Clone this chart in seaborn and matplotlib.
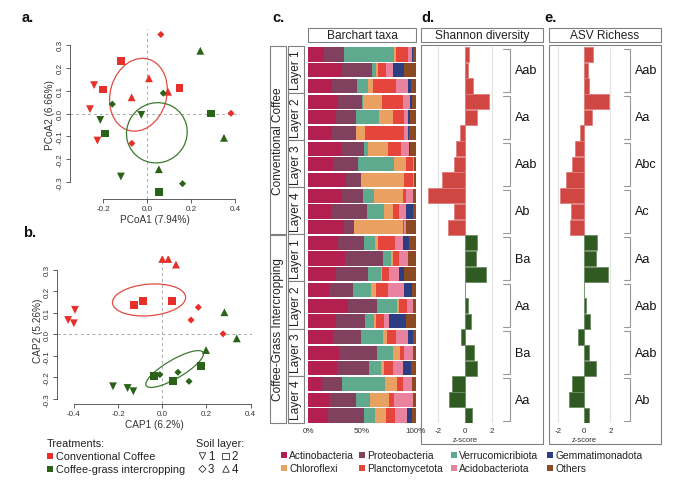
import matplotlib
matplotlib.use("Agg")
import matplotlib.pyplot as plt
from matplotlib.patches import Ellipse, Rectangle
import numpy as np
import pandas as pd
import seaborn as sns

# ---------------- data ----------------
# a. PCoA scores
pcoa_conv_x = [0.062, -0.118, 0.008, -0.242, -0.203, -0.071, 0.095, 0.147, -0.261, -0.227, -0.070, 0.382]
pcoa_conv_y = [0.345, 0.229, 0.154, 0.124, 0.105, 0.071, 0.095, 0.111, 0.019, -0.118, -0.130, 0.001]
pcoa_conv_layer = [3, 2, 4, 1, 2, 4, 4, 2, 1, 1, 3, 3]
pcoa_inter_x = [0.242, 0.073, -0.159, -0.214, -0.027, 0.292, -0.192, 0.350, 0.053, -0.120, 0.161, 0.053]
pcoa_inter_y = [0.274, 0.089, 0.041, -0.028, -0.006, 0.000, -0.087, -0.106, -0.243, -0.275, -0.306, -0.342]
pcoa_inter_layer = [4, 3, 3, 1, 1, 2, 2, 4, 4, 1, 3, 2]

# b. CAP scores
cap_conv_x = [0.000, 0.027, 0.062, -0.127, -0.089, 0.044, -0.395, -0.426, -0.400, 0.163, 0.130, 0.275]
cap_conv_y = [0.349, 0.349, 0.323, 0.134, 0.156, 0.156, 0.113, 0.066, 0.051, 0.125, 0.066, 0.002]
cap_conv_layer = [4, 4, 4, 2, 2, 2, 1, 1, 1, 3, 3, 3]
cap_inter_x = [0.281, 0.337, 0.198, 0.174, -0.038, 0.047, -0.011, 0.071, 0.121, -0.223, -0.157, -0.131]
cap_inter_y = [0.102, -0.019, -0.073, -0.145, -0.195, -0.215, -0.187, -0.176, -0.218, -0.241, -0.249, -0.264]
cap_inter_layer = [4, 4, 4, 2, 2, 2, 3, 3, 3, 1, 1, 1]

# c. relative abundance (%) per sample, top to bottom (24 samples)
taxa = ["Actinobacteria", "Proteobacteria", "Verrucomicrobiota", "Chloroflexi",
        "Planctomycetota", "Acidobacteriota", "Gemmatimonadota", "Others"]
taxa_labels = ["Actinobacteria", "Proteobacteria", "Verrucomicribiota", "Chloroflexi",
               "Planctomycetota", "Acidobacteriota", "Gemmatimonadota", "Others"]
actino = [14.9, 31.7, 21.7, 27.3, 25.5, 22.4, 30.4, 23.3, 35.1, 31.0, 21.1, 33.5,
          28.0, 34.2, 25.5, 19.3, 37.3, 25.5, 22.7, 28.6, 26.4, 13.0, 19.6, 18.6]
proteo = [18.6, 27.3, 23.6, 23.0, 18.9, 21.7, 21.4, 23.3, 13.7, 20.2, 33.9, 9.3,
          23.9, 35.1, 29.8, 22.0, 26.4, 27.3, 26.4, 35.7, 30.1, 18.6, 24.8, 33.5]
verruco = [46.3, 4.0, 9.9, 0.3, 21.7, 0.0, 3.7, 33.5, 0.0, 9.9, 15.5, 0.0,
           10.2, 7.8, 12.4, 17.1, 18.6, 8.4, 20.2, 14.9, 11.2, 39.8, 13.0, 9.9]
chloro = [1.6, 2.0, 4.7, 17.7, 13.0, 9.0, 18.3, 10.6, 40.7, 27.3, 8.7, 45.7,
          2.5, 2.2, 0.6, 4.3, 2.5, 1.6, 3.7, 6.2, 2.8, 10.9, 18.0, 10.2]
plancto = [11.1, 7.5, 21.7, 19.6, 9.9, 36.0, 12.1, 6.5, 7.8, 2.2, 5.3, 0.9,
           16.1, 5.6, 7.1, 11.2, 6.8, 7.8, 8.4, 3.7, 8.7, 5.6, 4.7, 8.4]
acido = [4.4, 6.5, 11.5, 6.8, 3.4, 4.0, 7.8, 1.2, 1.2, 7.1, 6.5, 1.2,
         7.8, 7.8, 9.3, 15.5, 5.6, 4.7, 11.8, 8.1, 9.3, 8.4, 17.1, 10.9]
gemma = [0.9, 10.0, 2.2, 1.5, 2.2, 0.6, 0.9, 0.0, 0.0, 0.0, 6.2, 0.0,
         5.6, 0.6, 4.7, 7.5, 0.6, 15.8, 4.7, 0.0, 7.1, 0.0, 0.6, 5.3]
others = [2.2, 10.9, 4.7, 3.7, 5.3, 6.2, 5.3, 1.6, 1.5, 2.3, 2.8, 9.3,
          5.9, 6.8, 10.6, 3.1, 2.2, 9.0, 2.2, 2.8, 4.3, 3.7, 2.2, 3.1]

# d./e. z-scores per sample
shannon_z = [0.30, 0.20, 0.62, 1.78, 0.90, -0.35, -0.70, -0.80, -1.70, -2.75, -0.85, -1.30,
             0.90, 0.85, 1.58, 0.00, 0.25, 0.42, -0.32, 0.68, 0.90, -0.95, -1.18, 0.50]
richness_z = [0.65, 0.26, 0.36, 1.87, 0.62, -0.31, -0.73, -0.94, -1.40, -1.84, -1.00, -1.10,
              0.96, 0.86, 1.80, 0.00, 0.12, 0.40, -0.50, 0.38, 0.86, -0.95, -1.15, 0.38]
shannon_letters = ["Aab", "Aa", "Aab", "Ab", "Ba", "Aa", "Ba", "Aa"]
richness_letters = ["Aab", "Aa", "Abc", "Ac", "Aa", "Aab", "Aab", "Ab"]

treatments = ["Conventional Coffee", "Coffee-Grass Intercropping"]
layers = ["Layer 1", "Layer 2", "Layer 3", "Layer 4"]

# ---------------- styling ----------------
RED = "#E8302A"
GREEN = "#2A6318"
trt_pal = {"conv": RED, "inter": GREEN}
taxa_colors = ["#B31F4E", "#80405E", "#5FA98F", "#EAA060", "#E6453C", "#E8829F", "#2C3D82", "#8B4A22"]
BOX = "#808080"

sns.set_theme(style="white")
plt.rcParams["font.family"] = ["Liberation Sans", "DejaVu Sans"]
plt.rcParams["axes.unicode_minus"] = False

W, H = 680, 485
fig = plt.figure(figsize=(W / 100, H / 100), dpi=100)


def px_rect(l, t, r, b):
    return [l / W, 1 - b / H, (r - l) / W, (b - t) / H]


def ordination(ax, cx, cy, cl, ix, iy, il, xlim, ylim, xticks, yticks, xlabel, ylabel, ells):
    df = pd.DataFrame({
        "x": cx + ix, "y": cy + iy,
        "trt": ["conv"] * len(cx) + ["inter"] * len(ix),
        "layer": cl + il,
    })
    ax.axhline(0, color="#aaaaaa", lw=0.7, ls=(0, (3, 3)), zorder=1)
    ax.axvline(0, color="#aaaaaa", lw=0.7, ls=(0, (3, 3)), zorder=1)
    sns.scatterplot(data=df, x="x", y="y", hue="trt", style="layer", size="layer",
                    palette=trt_pal, markers={1: "v", 2: "s", 3: "D", 4: "^"},
                    sizes={1: 32, 2: 32, 3: 13, 4: 32}, linewidth=0, legend=False,
                    ax=ax, zorder=3)
    for (xy, w, h, ang, col) in ells:
        ax.add_patch(Ellipse(xy, w, h, angle=ang, fill=False, ec=col, lw=0.9, zorder=2))
    ax.set_xlim(xlim)
    ax.set_ylim(ylim)
    for s in ["top", "right"]:
        ax.spines[s].set_visible(False)
    for s in ["left", "bottom"]:
        ax.spines[s].set_color("#444444")
        ax.spines[s].set_linewidth(0.6)
    ax.spines["left"].set_bounds(yticks[0], yticks[-1])
    ax.spines["bottom"].set_bounds(xticks[0], xticks[-1])
    ax.set_xticks(xticks)
    ax.set_xticklabels([f"{v:.1f}" for v in xticks])
    ax.set_yticks(yticks)
    ax.set_yticklabels([f"{v:.1f}" for v in yticks], rotation=90, va="center")
    ax.tick_params(bottom=True, left=True, direction="out", length=3, width=0.6,
                   labelsize=5.8, pad=1.5, colors="#444444", labelcolor="#333333")
    ax.set_xlabel(xlabel, fontsize=7.2, labelpad=1, color="#333333")
    ax.set_ylabel(ylabel, fontsize=7.2, labelpad=1, color="#333333")
    ax.set_facecolor("none")


# a. PCoA
ax_a = fig.add_axes(px_rect(70, 30, 240, 200))
ordination(ax_a, pcoa_conv_x, pcoa_conv_y, pcoa_conv_layer,
           pcoa_inter_x, pcoa_inter_y, pcoa_inter_layer,
           (-0.352, 0.423), (-0.373, 0.369), [-0.2, 0.0, 0.2, 0.4], [-0.3, -0.2, -0.1, 0.0, 0.1, 0.2, 0.3],
           "PCoA1 (7.94%)", "PCoA2 (6.66%)",
           [((-0.04, 0.082), 0.324, 0.256, 72, "#E24A40"),
            ((0.044, -0.084), 0.278, 0.262, 15, "#3C7A2E")])

# b. CAP
ax_b = fig.add_axes(px_rect(57.3, 256.7, 251.8, 405))
ordination(ax_b, cap_conv_x, cap_conv_y, cap_conv_layer,
           cap_inter_x, cap_inter_y, cap_inter_layer,
           (-0.475, 0.405), (-0.323, 0.364), [-0.4, -0.2, 0.0, 0.2, 0.4], [-0.3, -0.2, -0.1, 0.0, 0.1, 0.2, 0.3],
           "CAP1 (6.2%)", "CAP2 (5.26%)",
           [((-0.06, 0.159), 0.332, 0.146, 5, "#E24A40"),
            ((0.056, -0.161), 0.30, 0.085, 31, "#3C7A2E")])

# rows shared by c, d, e
ROW_TOP, ROW_BOT = 47.7, 424.3
n_rows = len(shannon_z)
row_h = (ROW_BOT - ROW_TOP) / n_rows
sample_ids = [f"s{i:02d}" for i in range(n_rows)]
row_trt = ["conv"] * 12 + ["inter"] * 12

# c. stacked taxa bars
ax_c = fig.add_axes(px_rect(308.3, ROW_TOP, 415.7, ROW_BOT))
comp = pd.DataFrame(dict(zip(taxa, [actino, proteo, verruco, chloro, plancto, acido, gemma, others])))
comp = comp.div(comp.sum(axis=1), axis=0) * 100
left = np.zeros(n_rows)
for t, col in zip(taxa, taxa_colors):
    ax_c.barh(np.arange(n_rows), comp[t].values, left=left, height=0.9, color=col, linewidth=0)
    left += comp[t].values
ax_c.set_xlim(0, 100)
ax_c.set_ylim(n_rows - 0.5, -0.5)
ax_c.set_yticks([])
ax_c.set_xticks([0, 50, 100])
ax_c.set_xticklabels(["0%", "50%", "100%"])
ax_c.tick_params(length=0, labelsize=5.8, pad=3, labelcolor="#333333")
for s in ax_c.spines.values():
    s.set_visible(False)


def zpanel(ax, vals, letters, xlim, bx0, bx1, lx):
    df = pd.DataFrame({"sample": sample_ids, "z": vals, "trt": row_trt})
    for g in [-2, 0, 2]:
        ax.axvline(g, color="#e4e4e4", lw=0.9, zorder=0)
    sns.barplot(data=df, x="z", y="sample", hue="trt", palette=trt_pal, dodge=False,
                width=0.97, orient="h", errorbar=None, legend=False, ax=ax, zorder=2)
    for p in ax.patches:
        fc = np.array(p.get_facecolor()[:3])
        p.set_edgecolor(tuple(0.7 * fc + 0.3))
        p.set_linewidth(0.6)
    ax.set_xlim(xlim)
    ax.set_ylim(n_rows - 0.5, -0.5)
    ax.set_yticks([])
    ax.set_ylabel("")
    ax.set_xlabel("")
    ax.set_xticks([-2, 0, 2])
    ax.set_xticklabels(["-2", "0", "2"])
    ax.tick_params(length=0, labelsize=5.8, pad=2.5, labelcolor="#333333")
    ax.text(0, -0.043, "z-score", transform=ax.get_xaxis_transform(), ha="center",
            va="center", fontsize=5.5, color="#333333")
    for s in ax.spines.values():
        s.set_visible(False)
    ax.set_facecolor("none")
    for g, lab in enumerate(letters):
        y0, y1 = 3 * g - 0.5 + 0.13, 3 * g + 2.5 - 0.13
        ax.plot([bx0, bx1, bx1, bx0], [y0, y0, y1, y1], color="#999999", lw=0.8, clip_on=False)
        ax.text(lx, 3 * g + 1, lab, ha="left", va="center", fontsize=9, color="#111111")


ax_d = fig.add_axes(px_rect(421.5, ROW_TOP, 542.5, ROW_BOT))
zpanel(ax_d, shannon_z, shannon_letters, (-3.26, 5.8), 2.85, 3.37, 3.75)
ax_e = fig.add_axes(px_rect(549.5, ROW_TOP, 660.5, ROW_BOT))
zpanel(ax_e, richness_z, richness_letters, (-2.67, 5.84), 3.07, 3.5, 3.85)

# ---------------- overlay: strips, boxes, legends, panel letters ----------------
ov = fig.add_axes([0, 0, 1, 1])
ov.set_xlim(0, W)
ov.set_ylim(H, 0)
ov.axis("off")


def strip(l, t, r, b, text, rot=0, fs=8.6):
    ov.add_patch(Rectangle((l, t), r - l, b - t, fc="white", ec=BOX, lw=0.8))
    ov.text((l + r) / 2, (t + b) / 2, text, rotation=rot, ha="center", va="center",
            fontsize=fs, color="#222222")


strip(308, 29, 416, 43, "Barchart taxa")
strip(421, 29, 543, 43, "Shannon diversity")
strip(549, 29, 661, 43, "ASV Richess")
ov.add_patch(Rectangle((421, 46), 122, 399, fill=False, ec=BOX, lw=0.8))
ov.add_patch(Rectangle((549, 46), 112, 399, fill=False, ec=BOX, lw=0.8))

for k, trt in enumerate(treatments):
    t = ROW_TOP + k * 12 * row_h
    strip(270, t - 0.8 + (0.8 if k else 0), 286, t + 12 * row_h - 0.6, trt, rot=90)
    for j, lay in enumerate(layers):
        lt = t + 3 * j * row_h
        strip(288, lt - 0.6, 304, lt + 3 * row_h - 0.6, lay, rot=90)

# panel letters
for lab, x, y in [("a.", 22, 17.5), ("b.", 23, 233), ("c.", 272, 18), ("d.", 421, 18), ("e.", 544, 18)]:
    ov.text(x, y, lab, fontsize=10.5, fontweight="bold", ha="left", va="center", color="#111111")

# treatment legend
ov.text(46.5, 444, "Treatments:", fontsize=7.8, ha="left", va="center", color="#222222")
for y, col, lab in [(457, RED, "Conventional Coffee"), (469.7, GREEN, "Coffee-grass intercropping")]:
    ov.scatter([49.5], [y], marker="s", s=13, color=col, linewidth=0)
    ov.text(56.5, y, lab, fontsize=7.8, ha="left", va="center", color="#222222")

# soil layer legend
ov.text(196.5, 444, "Soil layer:", fontsize=7.8, ha="left", va="center", color="#222222")
for mk, x, y, lab in [("v", 202.5, 457, "1"), ("s", 225.5, 457, "2"),
                      ("D", 202.5, 470, "3"), ("^", 226, 470, "4")]:
    ov.scatter([x], [y], marker=mk, s=22 if mk != "D" else 13, facecolor="none",
               edgecolor="#333333", linewidth=0.6)
    ov.text(x + 5.5, y, lab, fontsize=8.3, ha="left", va="center", color="#222222")

# taxa legend
leg_x = [284, 361.7, 454, 550]
leg_y = [456, 468.7]
for i, (lab, col) in enumerate(zip(taxa_labels, taxa_colors)):
    col_i = [0, 1, 2, 0, 1, 2, 3, 3][i]
    row_i = [0, 0, 0, 1, 1, 1, 0, 1][i]
    x, y = leg_x[col_i], leg_y[row_i]
    ov.scatter([x], [y], marker="s", s=13, color=col, linewidth=0)
    ov.text(x + 5, y, lab, fontsize=7.4, ha="left", va="center", color="#222222")

fig.savefig("out.png", dpi=100)
